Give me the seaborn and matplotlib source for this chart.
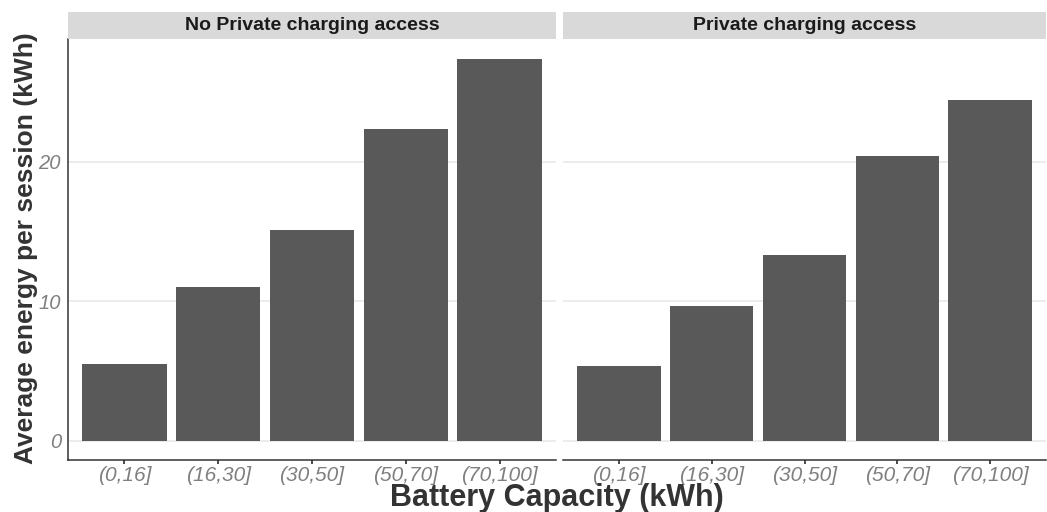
import matplotlib
matplotlib.use("Agg")
import matplotlib.pyplot as plt
import seaborn as sns
import pandas as pd

categories = ["(0,16]", "(16,30]", "(30,50]", "(50,70]", "(70,100]"]
no_private = [5.5, 11.05, 15.07, 22.3, 27.37]
private = [5.36, 9.65, 13.3, 20.37, 24.37]
panels = ["No Private charging access", "Private charging access"]
yticks = [0, 10, 20]

sns.set_theme(style="white")
plt.rcParams["font.family"] = ["Liberation Sans", "DejaVu Sans"]

df = pd.DataFrame({
    "cap": categories * 2,
    "energy": no_private + private,
    "panel": [panels[0]] * 5 + [panels[1]] * 5,
})

W, H = 1047, 512
fig = plt.figure(figsize=(W / 100, H / 100), dpi=100)
ymin, ymax = -1.37, 28.77
boxes = [(68, 556), (563, 1046)]
top_px, bot_px, strip_top = 39, 460, 12
tick_col = "#7F7F7F"

for i, (p, (x0, x1)) in enumerate(zip(panels, boxes)):
    ax = fig.add_axes([x0 / W, 1 - bot_px / H, (x1 - x0) / W, (bot_px - top_px) / H])
    sub = df[df["panel"] == p]
    sns.barplot(data=sub, x="cap", y="energy", order=categories, color="#595959",
                saturation=1, width=0.9, ax=ax, errorbar=None)
    for b in ax.patches:
        b.set_edgecolor("none")
    ax.set_xlim(-0.6, 4.6)
    ax.set_ylim(ymin, ymax)
    ax.set_yticks(yticks)
    ax.yaxis.grid(True, color="#EBEBEB", linewidth=1.3)
    ax.set_axisbelow(True)
    for s in ["top", "right"]:
        ax.spines[s].set_visible(False)
    ax.spines["bottom"].set_color("#333333")
    ax.spines["bottom"].set_linewidth(1.1)
    if i == 0:
        ax.spines["left"].set_color("#333333")
        ax.spines["left"].set_linewidth(1.1)
        ax.tick_params(axis="y", length=3, color="#333333", labelsize=14.5,
                       labelcolor=tick_col, pad=2)
        for t in ax.get_yticklabels():
            t.set_fontstyle("italic")
    else:
        ax.spines["left"].set_visible(False)
        ax.tick_params(axis="y", left=False, labelleft=False)
    ax.tick_params(axis="x", length=3, color="#333333", labelsize=15,
                   labelcolor=tick_col, pad=1, bottom=True)
    for t in ax.get_xticklabels():
        t.set_fontstyle("italic")
    ax.set_xlabel("")
    ax.set_ylabel("")
    # strip
    sax = fig.add_axes([x0 / W, 1 - top_px / H, (x1 - x0) / W, (top_px - strip_top) / H])
    sax.set_facecolor("#D9D9D9")
    sax.set_xticks([])
    sax.set_yticks([])
    for s in sax.spines.values():
        s.set_visible(False)
    sax.text(0.5, 0.5, p, ha="center", va="center", fontsize=14,
             fontweight="bold", color="#1A1A1A", transform=sax.transAxes)

fig.text(0.5 * (68 + 1046) / W, 1 - 498 / H, "Battery Capacity (kWh)", ha="center",
         va="center", fontsize=22, fontweight="bold", color="#333333")
fig.text(26 / W, 1 - 248 / H, "Average energy per session (kWh)", ha="center",
         va="center", rotation=90, fontsize=19, fontweight="bold", color="#333333")

fig.savefig("out.png", dpi=100)
